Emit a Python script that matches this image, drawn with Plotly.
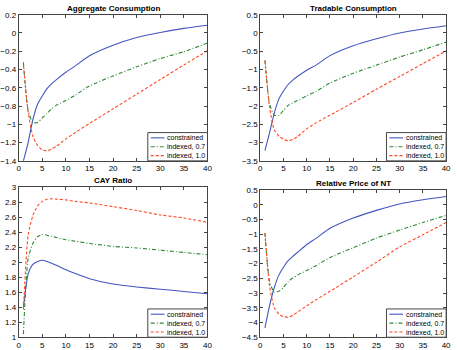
import plotly.graph_objects as go

W, H = 457, 350

# ---------------- data ----------------
t = [1, 2, 3, 4, 5, 6, 7, 8, 10, 12, 15, 20, 25, 30, 35, 40]

agg_con = [-1.40, -1.20, -0.95, -0.78, -0.69, -0.61, -0.555, -0.51, -0.43, -0.36, -0.25, -0.135, -0.05, 0.006, 0.05, 0.084]
agg_07 = [-0.32, -0.85, -0.98, -0.98, -0.93, -0.88, -0.83, -0.79, -0.74, -0.68, -0.58, -0.47, -0.37, -0.28, -0.205, -0.11]
agg_10 = [-0.35, -0.86, -1.13, -1.23, -1.28, -1.29, -1.27, -1.24, -1.16, -1.09, -0.99, -0.83, -0.67, -0.51, -0.35, -0.195]

tra_con = [-3.22, -2.73, -2.20, -1.81, -1.59, -1.41, -1.29, -1.19, -1.02, -0.88, -0.62, -0.35, -0.16, 0.0, 0.11, 0.20]
tra_07 = [-0.75, -1.94, -2.25, -2.25, -2.12, -1.98, -1.91, -1.85, -1.72, -1.60, -1.37, -1.10, -0.88, -0.66, -0.46, -0.25]
tra_10 = [-0.75, -2.03, -2.65, -2.82, -2.91, -2.95, -2.91, -2.84, -2.62, -2.46, -2.25, -1.90, -1.54, -1.19, -0.84, -0.49]

cay_con = [1.39, 1.84, 1.97, 2.01, 2.026, 2.01, 1.985, 1.96, 1.90, 1.85, 1.78, 1.71, 1.67, 1.64, 1.61, 1.58]
cay_07 = [1.04, 2.05, 2.25, 2.34, 2.37, 2.36, 2.345, 2.33, 2.30, 2.28, 2.25, 2.21, 2.19, 2.16, 2.13, 2.10]
cay_10 = [1.37, 2.36, 2.62, 2.75, 2.81, 2.84, 2.845, 2.84, 2.83, 2.81, 2.79, 2.74, 2.69, 2.63, 2.59, 2.53]

rp_con = [-4.18, -3.43, -2.82, -2.39, -2.12, -1.90, -1.75, -1.62, -1.35, -1.14, -0.80, -0.45, -0.19, 0.03, 0.17, 0.28]
rp_07 = [-0.96, -2.61, -2.97, -2.94, -2.80, -2.61, -2.49, -2.39, -2.23, -2.07, -1.79, -1.46, -1.13, -0.86, -0.60, -0.36]
rp_10 = [-0.96, -2.77, -3.49, -3.71, -3.80, -3.82, -3.76, -3.65, -3.43, -3.23, -2.94, -2.45, -1.95, -1.43, -1.02, -0.60]

titles = ["Aggregate Consumption", "Tradable Consumption", "CAY Ratio", "Relative Price of NT"]
names = ["constrained", "indexed, 0.7", "indexed, 1.0"]
x_ticks = [0, 5, 10, 15, 20, 25, 30, 35, 40]
y_ranges = [(-1.4, 0.2), (-3.5, 0.5), (1.0, 3.0), (-4.5, 0.5)]
y_dticks = [0.2, 0.5, 0.2, 0.5]
panels = [
    (agg_con, agg_07, agg_10),
    (tra_con, tra_07, tra_10),
    (cay_con, cay_07, cay_10),
    (rp_con, rp_07, rp_10),
]

# ---------------- styles ----------------
colors = ["#4455c0", "#2f8a35", "#ff4a25"]
dashes = ["solid", "4px,2px,1px,2px", "3px,2px"]
FONT = "Liberation Sans, Arial, sans-serif"
AX = "#444"
LEG_FS = 7
LINE_H = 1.3 * LEG_FS

# pixel boxes: (left, right, top, bottom)
boxes = [(14, 207, 11, 161), (261, 451, 11, 161), (14, 207, 188, 342), (261, 451, 191, 342)]


def px(x):
    return x / W


def py(y):
    return 1 - y / H


fig = go.Figure()
layout = dict(
    width=W, height=H,
    margin=dict(l=0, r=0, t=0, b=0),
    paper_bgcolor="white", plot_bgcolor="white",
    font=dict(family=FONT, size=8, color="black"),
    showlegend=False,
    annotations=[], shapes=[],
)

for i, (ys, box) in enumerate(zip(panels, boxes)):
    k = "" if i == 0 else str(i + 1)
    for j in range(3):
        fig.add_trace(go.Scatter(
            x=t, y=ys[j], mode="lines", name=names[j],
            line=dict(color=colors[j], dash=dashes[j], width=1.1, shape="spline", smoothing=0.6),
            xaxis="x" + k, yaxis="y" + k,
        ))
    l, r, tp, bt = box
    xd = [px(l), px(r)]
    yd = [py(bt), py(tp)]
    axcommon = dict(showgrid=False, zeroline=False, showline=True, linecolor=AX,
                    linewidth=1, mirror="ticks", ticks="inside", ticklen=3,
                    tickcolor=AX, tickfont=dict(size=8, family=FONT, color="black"))
    layout["xaxis" + k] = dict(domain=xd, anchor="y" + k, range=[0, 40],
                               tickvals=x_ticks, **axcommon)
    layout["yaxis" + k] = dict(domain=yd, anchor="x" + k, range=list(y_ranges[i]),
                               dtick=y_dticks[i], tick0=0, **axcommon)
    layout["annotations"].append(dict(
        text="<b>" + titles[i] + "</b>", x=(xd[0] + xd[1]) / 2, y=yd[1],
        xref="paper", yref="paper", xanchor="center", yanchor="bottom",
        showarrow=False, font=dict(size=8, family=FONT, color="black"),
    ))
    # custom compact legend box in the lower-right corner
    lw, lh = 61, 29
    bx0, by0 = r - lw, bt - lh
    cy = by0 + lh / 2
    layout["shapes"].append(dict(
        type="rect", xref="paper", yref="paper",
        x0=px(bx0), x1=px(r), y0=py(bt), y1=py(by0),
        fillcolor="white", line=dict(color=AX, width=1), layer="above",
    ))
    for j in range(3):
        yy = cy + (j - 1) * LINE_H
        layout["shapes"].append(dict(
            type="line", xref="paper", yref="paper",
            x0=px(bx0 + 3), x1=px(bx0 + 17), y0=py(yy), y1=py(yy),
            line=dict(color=colors[j], dash=dashes[j], width=1.1), layer="above",
        ))
    layout["annotations"].append(dict(
        text="<br>".join(names), x=px(bx0 + 19), y=py(cy), xref="paper", yref="paper",
        xanchor="left", yanchor="middle", align="left", showarrow=False,
        borderpad=0, font=dict(size=LEG_FS, family=FONT, color="black"),
    ))

fig.update_layout(**layout)
fig.write_html("out.html")
